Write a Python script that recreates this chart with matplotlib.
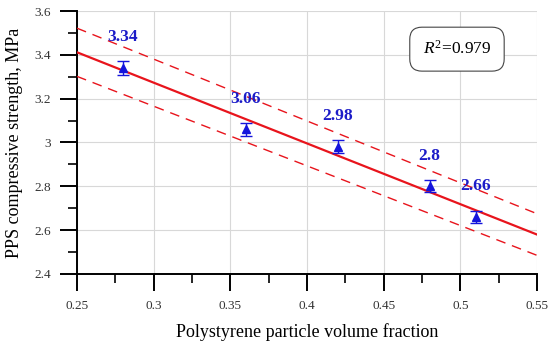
import numpy as np
import matplotlib
matplotlib.use("Agg")
import matplotlib.pyplot as plt
from matplotlib.ticker import MultipleLocator

# data
vol_frac = [0.28, 0.36, 0.42, 0.48, 0.51]
strength = [3.34, 3.06, 2.98, 2.80, 2.66]
err = [0.03, 0.03, 0.03, 0.028, 0.026]
labels = ["3.34", "3.06", "2.98", "2.8", "2.66"]
band_hw = [0.11, 0.095]   # half width of dashed band at x=0.25 and x=0.55
r2_text = "$R^2$=0.979"

plt.rcParams['font.family'] = ['Liberation Serif', 'DejaVu Serif']
plt.rcParams['mathtext.fontset'] = 'custom'
plt.rcParams['mathtext.it'] = 'Liberation Serif:italic'
plt.rcParams['mathtext.rm'] = 'Liberation Serif'

fig = plt.figure(figsize=(5.5, 3.45), dpi=100)
ax = fig.add_axes([0.14, 0.206, 0.8364, 0.762])

# linear fit
m, c = np.polyfit(vol_frac, strength, 1)
xx = np.array([0.25, 0.55])
yfit = m * xx + c
hw = np.array(band_hw)

red = '#e8141c'
ax.plot(xx, yfit, color=red, lw=1.6, zorder=3)
ax.plot(xx, yfit + hw, color=red, lw=1.0, ls=(0, (7, 5)), zorder=3)
ax.plot(xx, yfit - hw, color=red, lw=1.0, ls=(0, (7, 5)), zorder=3)

ax.errorbar(vol_frac, strength, yerr=err, fmt='^', color='#1414dc', ms=5.5,
            capsize=4, elinewidth=1.0, capthick=1.0, zorder=4)

for xv, yv, lab in zip(vol_frac, strength, labels):
    ax.annotate(lab, (xv, yv), xytext=(0, 22), textcoords='offset points',
                ha='center', va='center', color='#1c1cc8', fontsize=12.5,
                fontweight='bold')

ax.text(0.4978, 3.426, r2_text, ha='center', va='center', fontsize=12.5,
        bbox=dict(boxstyle='round,pad=0.75,rounding_size=0.7', fc='white',
                  ec='#444444', lw=0.8))

ax.set_xlim(0.25, 0.55)
ax.set_ylim(2.4, 3.6)
ax.xaxis.set_minor_locator(MultipleLocator(0.025))
ax.yaxis.set_minor_locator(MultipleLocator(0.1))
ax.set_xticks(np.arange(0.25, 0.551, 0.05))
ax.set_xticklabels(['0.25', '0.3', '0.35', '0.4', '0.45', '0.5', '0.55'])
ax.set_yticks(np.arange(2.4, 3.61, 0.2))
ax.set_yticklabels(['2.4', '2.6', '2.8', '3', '3.2', '3.4', '3.6'])

ax.grid(True, which='major', color='#d8d8d8', lw=0.8)
ax.set_axisbelow(True)
for s in ['top', 'right']:
    ax.spines[s].set_visible(False)
for s in ['left', 'bottom']:
    ax.spines[s].set_linewidth(1.4)

ax.tick_params(which='major', direction='out', length=12, width=1.4,
               labelsize=9.5, pad=7, colors='black')
ax.tick_params(which='minor', direction='out', length=6.5, width=1.2)
ax.tick_params(axis='both', labelcolor='#333333')

ax.set_xlabel("Polystyrene particle volume fraction", fontsize=13, labelpad=8)
ax.set_ylabel("PPS compressive strength, MPa", fontsize=13, labelpad=8)

fig.savefig("out.png", dpi=100)
